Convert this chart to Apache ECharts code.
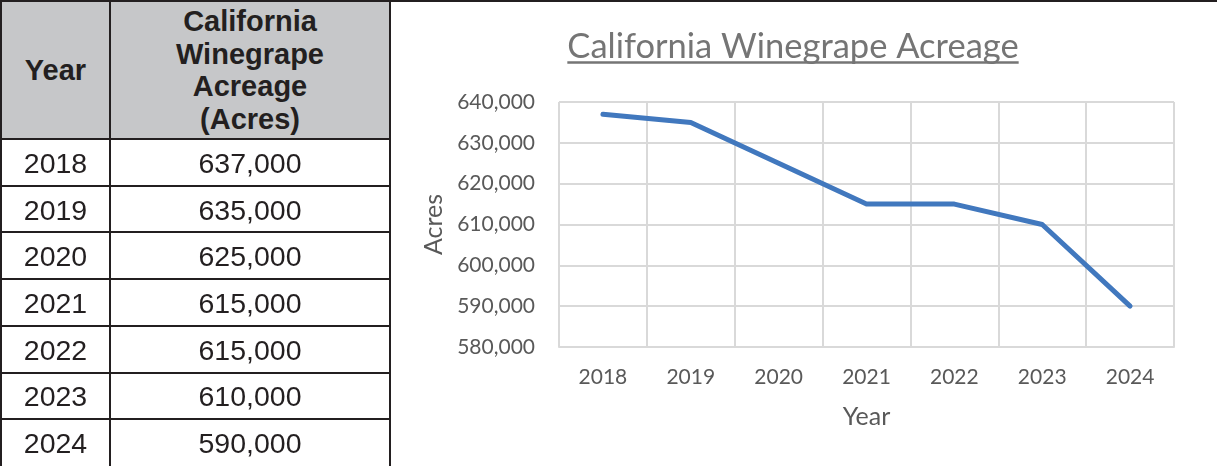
<!DOCTYPE html>
<html>
<head>
<meta charset="utf-8">
<script src="https://cdn.jsdelivr.net/npm/echarts@6/dist/echarts.min.js"></script>
<style>
  html, body { margin: 0; padding: 0; background: #fff; }
  #wrap { position: relative; width: 1217px; height: 467px; overflow: hidden; }
  #chart { position: absolute; left: 0; top: 0; width: 1217px; height: 467px; }
  #table { position: absolute; left: 0; top: 0; width: 392px; height: 467px; font-family: 'Liberation Sans', Arial, sans-serif; color: #231f20; }
  .ln { position: absolute; background: #231f20; }
  .cell { position: absolute; display: flex; align-items: center; justify-content: center; text-align: center; font-size: 28.5px; }
  .hd { background: #c6c7c9; font-weight: bold; line-height: 32.5px; font-size: 29px; }
</style>
</head>
<body>
<div id="wrap">
  <div id="chart"></div>
  <div id="table"></div>
</div>
<script>
// data
const years = ['2018', '2019', '2020', '2021', '2022', '2023', '2024']
const acres = [637000, 635000, 625000, 615000, 615000, 610000, 590000]
const tableHeaders = ['Year', 'California<br>Winegrape<br>Acreage<br>(Acres)']
const chartTitle = 'California Winegrape Acreage'
const yTicks = { min: 580000, max: 640000, step: 10000 }

const fmt = v => v.toLocaleString('en-US')

// ---- table (left side) ----
const tbl = document.getElementById('table')
const colX = [0, 109, 389]   // left edge of each vertical rule
const headBottom = 138
const rowH = 46.7
function addDiv (cls, css, html) {
  const d = document.createElement('div')
  d.className = cls
  Object.assign(d.style, css)
  if (html !== undefined) d.innerHTML = html
  tbl.appendChild(d)
}
// header cells
addDiv('cell hd', { left: '2px', top: '2px', width: (colX[1] - 2) + 'px', height: (headBottom - 2) + 'px' }, tableHeaders[0])
addDiv('cell hd', { left: (colX[1] + 2) + 'px', top: '2px', width: (colX[2] - colX[1] - 2) + 'px', height: (headBottom - 2) + 'px' }, tableHeaders[1])
// body rows
years.forEach((y, i) => {
  const top = headBottom + 2 + i * rowH
  addDiv('cell', { left: '2px', top: (top + 1) + 'px', width: (colX[1] - 2) + 'px', height: (rowH - 2) + 'px' }, y)
  addDiv('cell', { left: (colX[1] + 2) + 'px', top: (top + 1) + 'px', width: (colX[2] - colX[1] - 2) + 'px', height: (rowH - 2) + 'px' }, fmt(acres[i]))
  // rule under header / between rows
  addDiv('ln', { left: '0px', top: (headBottom + i * rowH) + 'px', width: (colX[2] + 2) + 'px', height: '2px' })
})
colX.forEach(x => addDiv('ln', { left: x + 'px', top: '0px', width: '2px', height: '466px' }))

// top rule across the whole figure
const topRule = document.createElement('div')
Object.assign(topRule.style, { position: 'absolute', left: '0px', top: '0px', width: '1217px', height: '2px', background: '#231f20' })
document.getElementById('wrap').appendChild(topRule)

// ---- chart (right side) ----
const chartInstance = echarts.init(document.getElementById('chart'), null, { renderer: 'canvas' })
const gridBox = { left: 559, right: 1174, top: 102, bottom: 347 }
const titleFont = '34.5px Lato'
const cv = document.createElement('canvas').getContext('2d')
cv.font = titleFont
const titleW = cv.measureText(chartTitle).width
const titleCx = 793

const labelStyle = { color: '#595959', fontFamily: 'Lato', fontSize: 21 }
const nameStyle = { color: '#595959', fontFamily: 'Lato', fontSize: 25 }
const option = {
  animation: false,
  graphic: [
    {
      type: 'text', x: titleCx, y: 47,
      style: { text: chartTitle, font: titleFont, fill: '#757575', align: 'center', verticalAlign: 'middle' }
    },
    {
      type: 'line',
      shape: { x1: titleCx - titleW / 2, y1: 62.5, x2: titleCx + titleW / 2, y2: 62.5 },
      style: { stroke: '#757575', lineWidth: 2.5 }
    }
  ],
  grid: {
    left: gridBox.left,
    top: gridBox.top,
    width: gridBox.right - gridBox.left,
    height: gridBox.bottom - gridBox.top
  },
  xAxis: {
    type: 'category',
    data: years,
    boundaryGap: true,
    name: 'Year',
    nameLocation: 'middle',
    nameGap: 57,
    nameTextStyle: nameStyle,
    axisTick: { show: false },
    axisLine: { lineStyle: { color: '#d9d9d9', width: 2 } },
    splitLine: { show: true, lineStyle: { color: '#d9d9d9', width: 2 } },
    axisLabel: Object.assign({ margin: 20 }, labelStyle)
  },
  yAxis: {
    type: 'value',
    min: yTicks.min,
    max: yTicks.max,
    interval: yTicks.step,
    name: 'Acres',
    nameLocation: 'middle',
    nameRotate: 90,
    nameGap: 112,
    nameTextStyle: nameStyle,
    axisLine: { show: false },
    axisTick: { show: false },
    splitLine: { lineStyle: { color: '#d9d9d9', width: 2 } },
    axisLabel: Object.assign({ margin: 24, formatter: v => fmt(v) }, labelStyle)
  },
  series: [
    {
      type: 'line',
      data: acres,
      symbol: 'none',
      lineStyle: { color: '#4178be', width: 5, cap: 'round', join: 'round' }
    }
  ]
}
chartInstance.setOption(option)
</script>
</body>
</html>
